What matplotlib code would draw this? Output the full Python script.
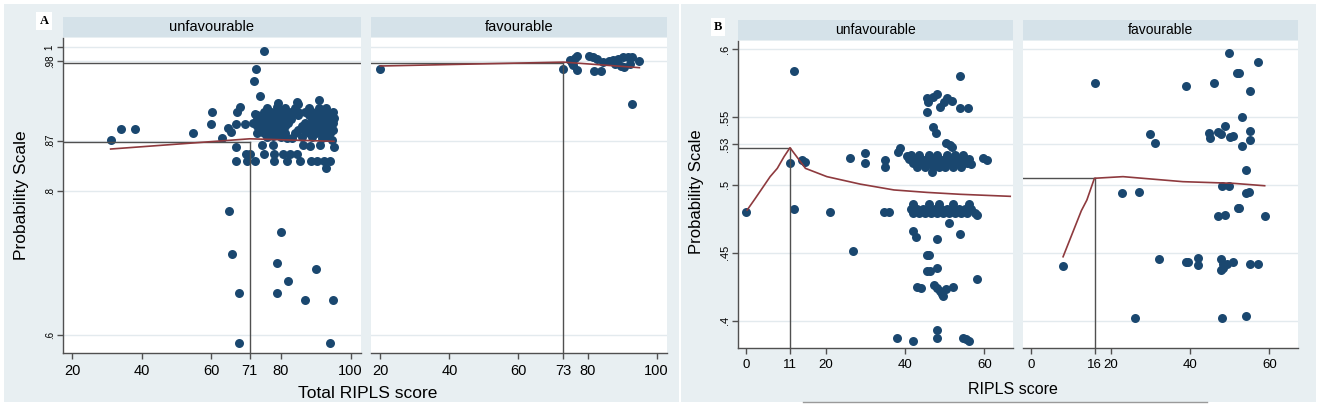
import matplotlib
matplotlib.use('Agg')
import matplotlib.pyplot as plt
from matplotlib.patches import Rectangle

# ---------------- data ----------------
# Panel A, unfavourable
a_unfav_pts = [
    (31.0, 0.871), (34.0, 0.886), (38.0, 0.886), (54.8, 0.881), (59.9, 0.893), (60.1, 0.910),
    (63.0, 0.873), (64.8, 0.8875), (65.7, 0.882), (67.0, 0.8615), (67.0, 0.842), (67.3, 0.910),
    (68.1, 0.916), (67.0, 0.893), (69.5, 0.893), (70.0, 0.852), (70.2, 0.842), (71.2, 0.852),
    (72.6, 0.842), (75.0, 0.994), (72.9, 0.970), (72.1, 0.953), (74.0, 0.932), (72.6, 0.907),
    (75.0, 0.852), (77.9, 0.852), (77.9, 0.842), (80.6, 0.852), (82.6, 0.852), (84.6, 0.852),
    (81.7, 0.841), (85.6, 0.841), (88.5, 0.841), (90.4, 0.841), (92.3, 0.841), (94.2, 0.841),
    (93.0, 0.832), (74.5, 0.864), (77.6, 0.864), (86.3, 0.864), (88.2, 0.862), (91.2, 0.864),
    (94.7, 0.871), (95.2, 0.8615), (91.8, 0.873), (81.7, 0.873), (83.2, 0.873), (77.6, 0.876),
    (79.5, 0.878), (79.0, 0.922), (84.6, 0.924), (84.9, 0.921), (90.9, 0.926), (78.7, 0.917),
    (95.2, 0.901),
    (65.0, 0.772), (80.1, 0.7435), (66.0, 0.7125), (78.9, 0.700), (90.0, 0.692), (82.0, 0.6755),
    (68.0, 0.658), (78.9, 0.658), (86.9, 0.6486), (95.0, 0.6486), (68.0, 0.5885), (94.0, 0.5885),
]
a_unfav_cluster = [
    (76, 0.915), (79, 0.915), (81, 0.915), (84, 0.915), (88, 0.915), (91, 0.915), (93, 0.915),
    (75, 0.910), (77, 0.910), (79, 0.910), (81, 0.910), (83, 0.910), (85, 0.910), (87, 0.910),
    (89, 0.910), (91, 0.910), (93, 0.910), (95, 0.910),
    (73, 0.905), (75, 0.905), (77, 0.905), (79, 0.905), (81, 0.905), (83, 0.905), (85, 0.905),
    (88, 0.905), (90, 0.905), (92, 0.905), (94, 0.905),
    (73, 0.900), (75, 0.900), (77, 0.900), (79, 0.900), (81, 0.900), (83, 0.900), (89, 0.900),
    (91, 0.900), (93, 0.900), (95, 0.900),
    (72, 0.895), (74, 0.895), (76, 0.895), (78, 0.895), (80, 0.895), (82, 0.895), (87, 0.895),
    (89, 0.895), (91, 0.895), (93, 0.895), (95, 0.895),
    (73, 0.890), (75, 0.890), (77, 0.890), (79, 0.890), (81, 0.890), (86, 0.890), (88, 0.890),
    (90, 0.890), (92, 0.890), (94, 0.890),
    (74, 0.885), (76, 0.885), (78, 0.885), (80, 0.885), (85, 0.885), (87, 0.885), (89, 0.885),
    (91, 0.885), (93, 0.885), (95, 0.885),
    (73, 0.880), (75, 0.880), (78, 0.880), (81, 0.880), (84, 0.880), (88, 0.880), (90, 0.880),
    (92, 0.880), (94, 0.880),
    (76, 0.875), (80, 0.875), (86, 0.875), (89, 0.875), (93, 0.875),
]
# Panel A, favourable
a_fav_pts = [
    (20.0, 0.969), (73.0, 0.969), (75.6, 0.978), (76.4, 0.985), (77.0, 0.988), (75.8, 0.975),
    (76.8, 0.968), (74.8, 0.982), (80.3, 0.988), (81.6, 0.986), (82.8, 0.983), (82.0, 0.966),
    (83.9, 0.966), (86.3, 0.980), (87.5, 0.982), (88.8, 0.984), (90.2, 0.986), (91.6, 0.986),
    (93.0, 0.986), (94.9, 0.981), (90.5, 0.972), (88.0, 0.976), (89.8, 0.974), (92.2, 0.976),
    (84.5, 0.979), (93.0, 0.921),
]
# Panel B, unfavourable
b_unfav_pts = [
    (11.9, 0.5838), (11.1, 0.5158), (14.0, 0.518), (14.9, 0.5165), (26.0, 0.520), (30.0, 0.5232),
    (30.0, 0.5158), (35.0, 0.5183), (35.0, 0.5133), (38.2, 0.5244), (38.8, 0.5269), (53.9, 0.5801),
    (45.5, 0.5639), (45.8, 0.5612), (47.0, 0.5649), (48.1, 0.5670), (45.5, 0.5538), (48.9, 0.5575),
    (49.8, 0.5612), (50.5, 0.5637), (51.9, 0.5620), (53.9, 0.5563), (55.8, 0.5563), (47.1, 0.5428),
    (47.9, 0.5384), (50.2, 0.5305), (51.2, 0.5296), (51.8, 0.5280), (59.7, 0.5200), (60.7, 0.5180),
    (46.8, 0.5097),
    (0.0, 0.4802), (11.9, 0.4820), (21.2, 0.4802), (27.0, 0.4515), (34.6, 0.4802), (35.9, 0.4802),
    (51.0, 0.4721), (42.0, 0.4662), (42.8, 0.4618), (48.1, 0.4599), (53.9, 0.4638), (46.0, 0.4483),
    (45.6, 0.4483), (45.5, 0.4367), (46.2, 0.4367), (48.1, 0.4385), (58.2, 0.4306), (42.9, 0.4245),
    (43.9, 0.4238), (47.2, 0.4262), (48.0, 0.4240), (48.8, 0.4215), (49.2, 0.4195), (49.6, 0.4180),
    (50.2, 0.4230), (52.1, 0.4245), (38.0, 0.3874), (41.9, 0.3852), (48.1, 0.3931), (48.1, 0.3874),
    (54.6, 0.3874), (55.3, 0.3865), (56.0, 0.3852), (58.2, 0.4775),
]
b_unfav_cluster = [
    (41.5, 0.522), (43.5, 0.522), (46.0, 0.522), (48.0, 0.522), (50.5, 0.522), (52.5, 0.522),
    (54.5, 0.522), (40.5, 0.521),
    (41.0, 0.519), (42.5, 0.519), (44.0, 0.519), (45.5, 0.519), (47.0, 0.519), (48.5, 0.519),
    (50.0, 0.519), (51.5, 0.519), (53.0, 0.519), (54.5, 0.519), (56.0, 0.519),
    (42.0, 0.516), (43.5, 0.516), (45.0, 0.516), (46.5, 0.516), (48.0, 0.516), (49.5, 0.516),
    (51.0, 0.516), (52.5, 0.516), (54.0, 0.516), (55.5, 0.516), (56.5, 0.515),
    (43.0, 0.513), (45.0, 0.513), (47.0, 0.513), (48.5, 0.513), (50.0, 0.513), (52.0, 0.513),
    (54.0, 0.513),
    (42.0, 0.4855), (46.0, 0.4855), (48.5, 0.4855), (52.0, 0.4855), (56.0, 0.4855),
    (41.5, 0.482), (43.0, 0.482), (44.5, 0.482), (46.0, 0.482), (47.5, 0.482), (49.0, 0.482),
    (50.5, 0.482), (52.0, 0.482), (53.5, 0.482), (55.0, 0.482), (56.5, 0.482),
    (42.0, 0.479), (43.5, 0.479), (45.0, 0.479), (46.5, 0.479), (48.0, 0.479), (49.5, 0.479),
    (51.0, 0.479), (52.5, 0.479), (54.0, 0.479), (55.5, 0.479), (57.5, 0.479),
]
# Panel B, favourable
b_fav_pts = [
    (49.8, 0.5968), (57.1, 0.5907), (51.9, 0.5826), (52.3, 0.5826), (16.1, 0.5747), (39.0, 0.5728),
    (46.0, 0.5752), (55.0, 0.5691), (53.1, 0.5497), (30.0, 0.5374), (31.1, 0.5305), (44.7, 0.5379),
    (44.9, 0.5342), (47.0, 0.5391), (47.9, 0.5374), (48.9, 0.5435), (50.0, 0.5350), (50.8, 0.5362),
    (53.1, 0.5286), (55.0, 0.5396), (55.0, 0.5330), (54.2, 0.5109), (48.1, 0.4993), (49.9, 0.4993),
    (22.9, 0.4937), (27.1, 0.4949), (54.2, 0.4937), (54.8, 0.4949), (52.0, 0.4827), (52.4, 0.4830),
    (47.0, 0.4770), (48.9, 0.4778), (59.0, 0.4770), (8.0, 0.4402), (32.1, 0.4454), (39.0, 0.4434),
    (39.4, 0.4434), (42.1, 0.4459), (42.1, 0.4409), (47.9, 0.4454), (48.2, 0.4420), (49.2, 0.4420),
    (50.8, 0.4430), (47.9, 0.4373), (48.2, 0.4390), (55.0, 0.4415), (57.1, 0.4415), (26.0, 0.4017),
    (48.0, 0.4017), (54.2, 0.4036),
]

# fitted (red) curves
a_unfav_fit_x = [31.0, 71.0, 95.2]
a_unfav_fit_y = [0.8583, 0.8725, 0.8690]
a_fav_fit_x = [20.0, 73.0, 95.0]
a_fav_fit_y = [0.9736, 0.9790, 0.9713]
b_unfav_fit_x = [0.2, 2.1, 6.0, 7.8, 9.5, 11.0, 14.9, 20.3, 28.7, 37.2, 45.5, 53.9, 66.5]
b_unfav_fit_y = [0.4814, 0.4893, 0.5060, 0.5121, 0.5207, 0.5273, 0.5121, 0.5060, 0.5005,
                 0.4962, 0.4944, 0.4930, 0.4915]
b_fav_fit_x = [8.0, 12.6, 14.0, 15.9, 23.1, 38.2, 50.8, 58.8]
b_fav_fit_y = [0.4470, 0.4809, 0.4888, 0.5048, 0.5060, 0.5023, 0.5011, 0.4993]

# cut-off reference values
a_unfav_cut = (71, 0.8685)
a_fav_cut = (73, 0.9775)
b_unfav_cut = (11, 0.5273)
b_fav_cut = (16, 0.5048)

# ticks
a_yticks = [0.6, 0.8, 0.87, 0.98, 1.0]
a_yticklabels = ['.6', '.8', '.87', '.98', '1']
a_unfav_xticks = [20, 40, 60, 71, 80, 100]
a_fav_xticks = [20, 40, 60, 73, 80, 100]
b_yticks = [0.4, 0.45, 0.5, 0.53, 0.55, 0.6]
b_yticklabels = ['.4', '.45', '.5', '.53', '.55', '.6']
b_unfav_xticks = [0, 11, 20, 40, 60]
b_fav_xticks = [0, 16, 20, 40, 60]

# ---------------- style ----------------
W, H = 1325, 407
BG = '#e8eff2'
STRIP = '#d5e2e9'
NAVY = '#1a476f'
MAROON = '#8e3a3e'
REF = '#505050'
GRID = '#e3eaee'
FONT = 'Liberation Sans'
plt.rcParams['font.family'] = [FONT, 'DejaVu Sans']

fig = plt.figure(figsize=(W / 100, H / 100), dpi=100)
fig.patch.set_facecolor('white')


def frac(l, t, r, b):
    return [l / W, 1 - b / H, (r - l) / W, (b - t) / H]


# panel backgrounds
for (l, t, r, b) in [(4, 4, 679, 402), (681, 4, 1316, 402)]:
    fig.patches.append(Rectangle((l / W, 1 - b / H), (r - l) / W, (b - t) / H,
                                 transform=fig.transFigure, facecolor=BG,
                                 edgecolor='none', zorder=-10))


def strip(l, t, r, b, text, fs):
    ax = fig.add_axes(frac(l, t, r, b))
    ax.set_zorder(2)
    ax.set_facecolor(STRIP)
    ax.set_xticks([]); ax.set_yticks([])
    for s in ax.spines.values():
        s.set_visible(False)
    ax.text(0.5, 0.5, text, ha='center', va='center', fontsize=fs, transform=ax.transAxes)


def panel(box, xlim, ylim, xticks, yticks, yticklabels, pts, cluster, fitx, fity, cut,
          show_y, xfs, yfs):
    ax = fig.add_axes(frac(*box))
    ax.set_zorder(2)
    ax.set_facecolor('white')
    ax.set_xlim(*xlim); ax.set_ylim(*ylim)
    for yv in yticks:
        ax.axhline(yv, color=GRID, lw=1.0, zorder=1)
    allpts = pts + cluster
    ax.scatter([p[0] for p in allpts], [p[1] for p in allpts], s=42, color=NAVY,
               linewidths=0, zorder=3)
    cx, cy = cut
    ax.plot([xlim[0], cx], [cy, cy], color=REF, lw=1.0, zorder=4)
    ax.plot([cx, cx], [ylim[0], cy], color=REF, lw=1.0, zorder=4)
    ax.plot(fitx, fity, color=MAROON, lw=1.2, zorder=5)
    ax.set_xticks(xticks)
    ax.set_xticklabels([str(v) for v in xticks], fontsize=xfs)
    ax.tick_params(axis='x', length=4, width=1, color=REF, pad=4)
    for s in ['top', 'right']:
        ax.spines[s].set_visible(False)
    ax.spines['bottom'].set_color(REF)
    ax.spines['bottom'].set_linewidth(1.0)
    if show_y:
        ax.set_yticks(yticks)
        ax.set_yticklabels(yticklabels, fontsize=yfs, rotation=90, va='center')
        ax.tick_params(axis='y', length=4, width=1, color=REF, pad=2)
        ax.spines['left'].set_color(REF)
        ax.spines['left'].set_linewidth(1.0)
    else:
        ax.set_yticks([])
        ax.spines['left'].set_visible(False)
    return ax


# ---- Panel A ----
a_xlim = (17.3, 103.0)
a_ylim = (0.575, 1.0125)
strip(63, 17, 361, 37, 'unfavourable', 10.5)
strip(371, 17, 667, 37, 'favourable', 10.5)
axA1 = panel((63, 38, 361, 353), a_xlim, a_ylim, a_unfav_xticks, a_yticks, a_yticklabels,
             a_unfav_pts, a_unfav_cluster, a_unfav_fit_x, a_unfav_fit_y, a_unfav_cut,
             True, 10.5, 7)
axA1.plot([a_xlim[0], a_xlim[1]], [a_fav_cut[1], a_fav_cut[1]], color=REF, lw=1.0, zorder=4)
axA2 = panel((371, 38, 667, 353), a_xlim, a_ylim, a_fav_xticks, a_yticks, a_yticklabels,
             a_fav_pts, [], a_fav_fit_x, a_fav_fit_y, a_fav_cut, False, 10.5, 7)
fig.text(368 / W, 1 - 393 / H, 'Total RIPLS score', ha='center', va='center', fontsize=12.5)
fig.text(22 / W, 1 - 195 / H, 'Probability Scale', ha='center', va='center', fontsize=12.5,
         rotation=90)
fig.text(44 / W, 1 - 21 / H, 'A', ha='center', va='center', fontsize=9, fontweight='bold',
         family=['Liberation Serif', 'DejaVu Serif'],
         bbox=dict(boxstyle='square,pad=0.25', facecolor='white', edgecolor='none'))

# ---- Panel B ----
b_xlim = (-2.1, 67.2)
b_ylim = (0.3798, 0.6059)
strip(738, 20, 1013, 40, 'unfavourable', 10)
strip(1023, 20, 1298, 40, 'favourable', 10)
panel((738, 41, 1013, 348), b_xlim, b_ylim, b_unfav_xticks, b_yticks, b_yticklabels,
      b_unfav_pts, b_unfav_cluster, b_unfav_fit_x, b_unfav_fit_y, b_unfav_cut,
      True, 9.5, 8)
panel((1023, 41, 1298, 348), b_xlim, b_ylim, b_fav_xticks, b_yticks, b_yticklabels,
      b_fav_pts, [], b_fav_fit_x, b_fav_fit_y, b_fav_cut, False, 9.5, 8)
fig.text(1013 / W, 1 - 390 / H, 'RIPLS score', ha='center', va='center', fontsize=11.5)
fig.text(697 / W, 1 - 192 / H, 'Probability Scale', ha='center', va='center', fontsize=12,
         rotation=90)
fig.text(718 / W, 1 - 27 / H, 'B', ha='center', va='center', fontsize=9, fontweight='bold',
         family=['Liberation Serif', 'DejaVu Serif'],
         bbox=dict(boxstyle='square,pad=0.25', facecolor='white', edgecolor='none'))
fig.add_artist(plt.Line2D([803 / W, 1207 / W], [1 - 402 / H, 1 - 402 / H],
                          transform=fig.transFigure, color='#9a9a9a', lw=1))

fig.savefig('out.png', dpi=100)
